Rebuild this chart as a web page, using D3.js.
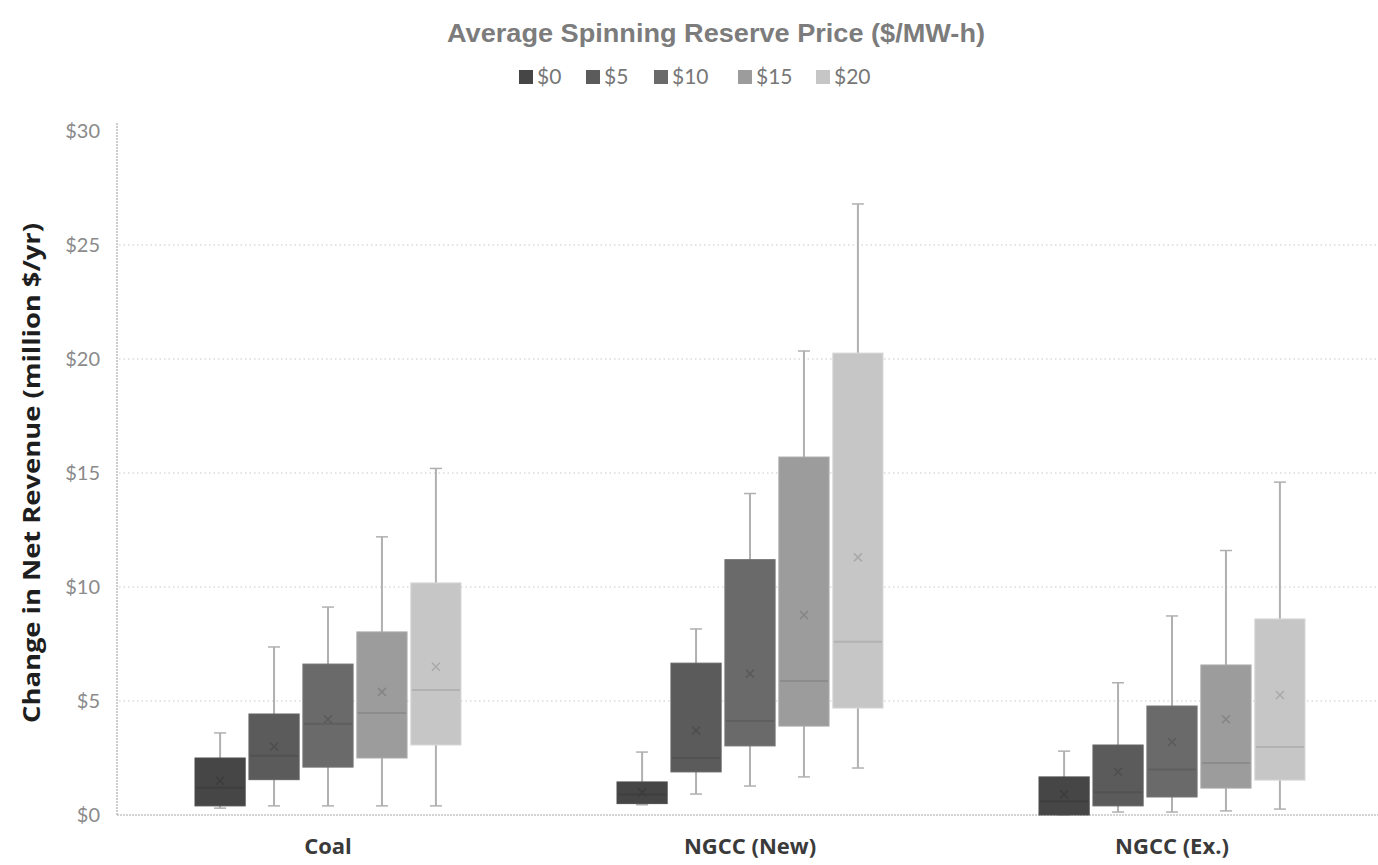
<!DOCTYPE html>
<html>
<head>
<meta charset="utf-8">
<script src="https://cdn.jsdelivr.net/npm/d3@7"></script>
<style>
  body { margin: 0; background: #fff; }
  svg { display: block; }
</style>
</head>
<body>
<div id="chart"></div>
<script>
// DATA =========================================
const categories = ["Coal", "NGCC (New)", "NGCC (Ex.)"];
const series = ["$0", "$5", "$10", "$15", "$20"];
const yTicks = [0, 5, 10, 15, 20, 25, 30];

// one row per category, one value per series (million $/yr)
const whiskerLow = [
  [0.3, 0.4, 0.4, 0.4, 0.4],
  [0.45, 0.92, 1.27, 1.67, 2.06],
  [0.0, 0.13, 0.13, 0.18, 0.26]
];
const q1 = [
  [0.4, 1.55, 2.1, 2.5, 3.07],
  [0.5, 1.89, 3.03, 3.9, 4.69],
  [0.0, 0.4, 0.79, 1.18, 1.53]
];
const median = [
  [1.2, 2.6, 4.0, 4.47, 5.48],
  [0.9, 2.5, 4.12, 5.88, 7.6],
  [0.6, 1.0, 2.0, 2.28, 2.98]
];
const q3 = [
  [2.5, 4.43, 6.62, 8.03, 10.18],
  [1.45, 6.66, 11.2, 15.7, 20.26],
  [1.67, 3.07, 4.78, 6.58, 8.6]
];
const whiskerHigh = [
  [3.6, 7.37, 9.12, 12.2, 15.2],
  [2.76, 8.16, 14.1, 20.35, 26.8],
  [2.8, 5.8, 8.73, 11.6, 14.6]
];
const mean = [
  [1.5, 3.0, 4.2, 5.4, 6.5],
  [1.0, 3.7, 6.2, 8.77, 11.3],
  [0.9, 1.9, 3.2, 4.2, 5.26]
];

const width = 1378;
const height = 865;
const margin = { top: 131, right: 0, bottom: 50, left: 117 };

const svg = d3.select("#chart")
  .append("svg")
  .attr("width", width)
  .attr("height", height);

// SCALES =======================================
const yScale = d3.scaleLinear()
  .domain([0, 30])
  .range([815, margin.top]);

const xScale = d3.scaleBand()
  .domain(categories)
  .range([margin.left, 1383]);

const xSub = d3.scaleBand()
  .domain(series)
  .range([-133, 133])
  .paddingInner(0.07);

const colorScale = d3.scaleOrdinal(series,
  ["#464646", "#5b5b5b", "#6a6a6a", "#9c9c9c", "#c6c6c6"]);

// TITLE + LEGEND ===============================
svg.append("text")
  .attr("x", 716)
  .attr("y", 42)
  .attr("text-anchor", "middle")
  .attr("textLength", 538)
  .attr("lengthAdjust", "spacingAndGlyphs")
  .style("font-family", "'Liberation Sans', Arial, sans-serif")
  .style("font-weight", 700)
  .style("font-size", "25px")
  .style("fill", "#7c7c7c")
  .text("Average Spinning Reserve Price ($/MW-h)");

const legendX = [519, 586, 654, 738, 816];
const legend = svg.selectAll("g.legend")
  .data(series)
  .join("g")
  .attr("class", "legend")
  .attr("transform", (d, i) => `translate(${legendX[i]}, 70)`);

legend.append("rect")
  .attr("width", 14)
  .attr("height", 14)
  .attr("fill", d => colorScale(d));

legend.append("text")
  .attr("x", 18)
  .attr("y", 14)
  .style("font-family", "Lato, sans-serif")
  .style("font-size", "21px")
  .style("fill", "#777")
  .text(d => d);

// GRID + AXES ==================================
svg.append("g")
  .selectAll("line")
  .data(yTicks.filter(d => d > 0 && d < 30))
  .join("line")
  .attr("x1", margin.left + 2)
  .attr("x2", width - 2)
  .attr("y1", d => yScale(d))
  .attr("y2", d => yScale(d))
  .attr("stroke", "#c8c8c8")
  .attr("stroke-width", 1)
  .attr("stroke-dasharray", "1.5,3");

const yAxis = d3.axisLeft(yScale)
  .tickValues(yTicks)
  .tickFormat(d => `$${d}`)
  .tickSize(0)
  .tickPadding(17);

svg.append("g")
  .attr("transform", `translate(${margin.left}, 0)`)
  .call(yAxis)
  .call(g => g.select(".domain")
    .attr("stroke", "#9a9a9a")
    .attr("stroke-dasharray", "2,1")
    .attr("d", `M0,123V815`))
  .call(g => g.selectAll("text")
    .style("font-family", "Lato, sans-serif")
    .style("font-size", "20px")
    .style("fill", "#8a8a8a"));

svg.append("line")
  .attr("x1", margin.left)
  .attr("x2", width)
  .attr("y1", yScale(0))
  .attr("y2", yScale(0))
  .attr("stroke", "#a8a8a8")
  .attr("stroke-dasharray", "2,1");

svg.append("text")
  .attr("transform", `translate(40, 473) rotate(-90)`)
  .attr("text-anchor", "middle")
  .attr("textLength", 500)
  .attr("lengthAdjust", "spacingAndGlyphs")
  .style("font-family", "'Open Sans', sans-serif")
  .style("font-weight", 700)
  .style("font-size", "24px")
  .style("fill", "#1e1e1e")
  .text("Change in Net Revenue (million $/yr)");

svg.append("g")
  .selectAll("text")
  .data(categories)
  .join("text")
  .attr("x", d => xScale(d) + xScale.bandwidth() / 2)
  .attr("y", 854)
  .attr("text-anchor", "middle")
  .style("font-family", "'Open Sans', sans-serif")
  .style("font-weight", 700)
  .style("font-size", "22px")
  .style("fill", "#3a3a3a")
  .text(d => d);

// BOXES ========================================
const boxData = [];
categories.forEach((c, ci) => {
  series.forEach((s, si) => {
    boxData.push({
      category: c, series: s,
      lo: whiskerLow[ci][si], q1: q1[ci][si], med: median[ci][si],
      q3: q3[ci][si], hi: whiskerHigh[ci][si], mean: mean[ci][si]
    });
  });
});

const bw = xSub.bandwidth();
const boxes = svg.append("g")
  .selectAll("g.box")
  .data(boxData)
  .join("g")
  .attr("class", "box")
  .attr("transform", d =>
    `translate(${xScale(d.category) + xScale.bandwidth() / 2 + xSub(d.series)}, 0)`);

const whiskerColor = "#b0b0b0";

// whiskers
boxes.append("line")
  .attr("x1", bw / 2).attr("x2", bw / 2)
  .attr("y1", d => yScale(d.hi))
  .attr("y2", d => yScale(d.lo))
  .attr("stroke", whiskerColor)
  .attr("stroke-width", 2);

boxes.selectAll("line.cap")
  .data(d => [d.hi, d.lo])
  .join("line")
  .attr("class", "cap")
  .attr("x1", bw / 2 - 6).attr("x2", bw / 2 + 6)
  .attr("y1", d => yScale(d))
  .attr("y2", d => yScale(d))
  .attr("stroke", whiskerColor)
  .attr("stroke-width", 1.5);

boxes.append("rect")
  .attr("y", d => yScale(d.q3))
  .attr("width", bw)
  .attr("height", d => Math.max(1, yScale(d.q1) - yScale(d.q3)))
  .attr("fill", d => colorScale(d.series))
  .attr("stroke", d => d3.color(colorScale(d.series)).brighter(0.25))
  .attr("stroke-width", 1);

// median
boxes.append("line")
  .attr("x1", 1).attr("x2", bw - 1)
  .attr("y1", d => yScale(d.med))
  .attr("y2", d => yScale(d.med))
  .attr("stroke", d => d3.color(colorScale(d.series)).darker(0.3))
  .attr("stroke-width", 2);

// mean marker
boxes.append("path")
  .attr("d", d => {
    const y = yScale(d.mean), x = bw / 2, r = 4;
    return `M${x - r},${y - r}L${x + r},${y + r}M${x - r},${y + r}L${x + r},${y - r}`;
  })
  .attr("stroke", d => d3.color(colorScale(d.series)).darker(0.45))
  .attr("stroke-width", 1.5)
  .attr("fill", "none");
</script>
</body>
</html>
